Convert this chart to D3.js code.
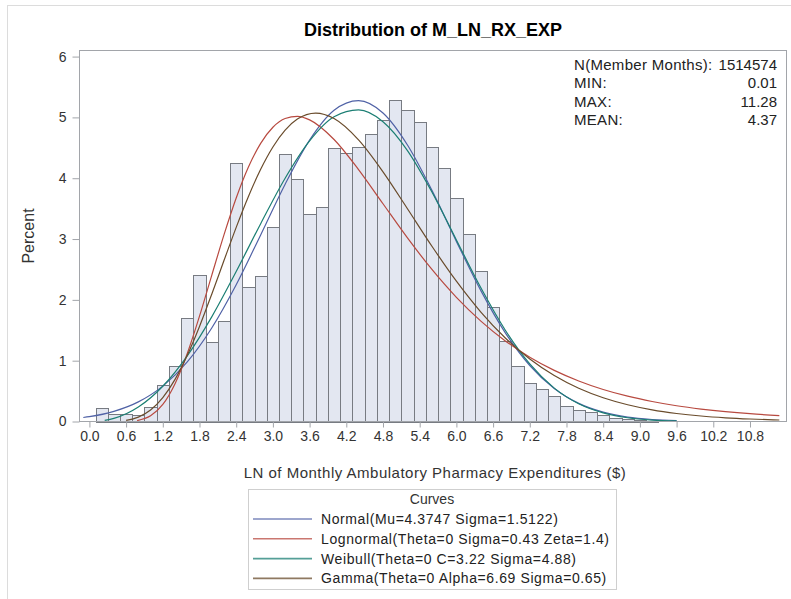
<!DOCTYPE html>
<html>
<head>
<meta charset="utf-8">
<script src="https://cdn.jsdelivr.net/npm/d3@7/dist/d3.min.js"></script>
<style>
  html, body { margin: 0; padding: 0; background: #fff; }
  svg { display: block; font-family: Arial, "Liberation Sans", sans-serif; }
</style>
</head>
<body>
<svg id="chart" width="791" height="599"></svg>
<script>
// ---------------- DATA ----------------
const titleText = "Distribution of M_LN_RX_EXP";
const xLabel = "LN of Monthly Ambulatory Pharmacy Expenditures ($)";
const yLabel = "Percent";

// Histogram bins (midpoints, width 0.2) and percent heights
const binMid = [0.2,0.4,0.6,0.8,1.0,1.2,1.4,1.6,1.8,2.0,2.2,2.4,2.6,2.8,3.0,3.2,3.4,3.6,3.8,4.0,
                4.2,4.4,4.6,4.8,5.0,5.2,5.4,5.6,5.8,6.0,6.2,6.4,6.6,6.8,7.0,7.2,7.4,7.6,7.8,8.0,
                8.2,8.4,8.6,8.8,9.0,9.2];
const binPct = [0.23,0.13,0.12,0.10,0.245,0.60,0.92,1.70,2.41,1.31,1.66,4.25,2.21,2.39,3.19,4.40,3.98,3.41,3.53,4.49,
                4.41,4.51,4.73,4.95,5.28,5.12,4.92,4.51,4.16,3.67,3.08,2.47,1.88,1.33,0.92,0.64,0.53,0.42,0.26,0.19,
                0.16,0.11,0.065,0.045,0.025,0.012];
const binWidth = 0.2;

const xTicks = [0.0,0.6,1.2,1.8,2.4,3.0,3.6,4.2,4.8,5.4,6.0,6.6,7.2,7.8,8.4,9.0,9.6,10.2,10.8];
const yTicks = [0,1,2,3,4,5,6];

// Fitted curves (percent per bin)
const normalX = [-0.1,0,0.4,0.8,1.2,1.6,2.0,2.4,2.8,3.2,3.6,4.0,4.4,4.8,5.2,5.6,6.0,6.4,6.8,7.2,7.6,8.0,8.4,8.8,9.2,9.6];
const normalY = [0.066,0.080,0.167,0.323,0.582,0.980,1.538,2.249,3.068,3.902,4.627,5.117,5.276,5.072,4.546,3.800,2.961,2.152,1.458,0.921,0.543,0.298,0.153,0.073,0.033,0.014];

const lognormX = [0.78,1.0,1.2,1.4,1.6,1.8,2.0,2.2,2.4,2.6,2.8,3.0,3.2,3.4,3.6,4.0,4.4,4.8,5.2,5.6,6.0,6.4,6.8,7.2,7.6,8.0,8.4,8.8,9.2,9.6,10.0,10.4,10.8,11.28];
const lognormY = [0.015,0.093,0.280,0.622,1.119,1.732,2.403,3.068,3.674,4.183,4.573,4.838,4.982,5.018,4.960,4.637,4.142,3.580,3.019,2.500,2.042,1.651,1.325,1.057,0.840,0.666,0.526,0.416,0.329,0.259,0.205,0.162,0.128,0.097];

const weibullX = [0.25,0.4,0.8,1.2,1.6,2.0,2.4,2.8,3.2,3.6,4.0,4.4,4.8,5.2,5.6,6.0,6.4,6.8,7.2,7.6,8.0,8.4,8.8,9.2,9.6];
const weibullY = [0.018,0.051,0.238,0.580,1.080,1.721,2.466,3.253,4.000,4.614,5.010,5.123,4.929,4.455,3.773,2.985,2.198,1.501,0.946,0.549,0.291,0.141,0.062,0.024,0.009];

const gammaX = [0.6,0.8,1.0,1.2,1.4,1.6,1.8,2.0,2.2,2.4,2.6,2.8,3.0,3.2,3.4,3.7,4.0,4.4,4.8,5.2,5.6,6.0,6.4,6.8,7.2,7.6,8.0,8.4,8.8,9.2,9.6,10.0,10.4,10.8,11.28];
const gammaY = [0.019,0.072,0.189,0.392,0.692,1.088,1.563,2.093,2.646,3.192,3.700,4.147,4.514,4.791,4.973,5.071,4.981,4.630,4.105,3.498,2.882,2.307,1.800,1.373,1.027,0.755,0.546,0.390,0.275,0.191,0.132,0.090,0.061,0.041,0.025];

const curveNames = [
  "Normal(Mu=4.3747 Sigma=1.5122)",
  "Lognormal(Theta=0 Sigma=0.43 Zeta=1.4)",
  "Weibull(Theta=0 C=3.22 Sigma=4.88)",
  "Gamma(Theta=0 Alpha=6.69 Sigma=0.65)"
];
const curveColors = ["#5062A6", "#B84A40", "#1C7F74", "#6A4C2C"];

const statLabels = ["N(Member Months):", "MIN:", "MAX:", "MEAN:"];
const statValues = ["1514574", "0.01", "11.28", "4.37"];

// ---------------- DRAW ----------------
const svg = d3.select("#chart");
const W = 791, H = 599;
const plot = { left: 79.5, right: 786.5, top: 50.5, bottom: 421.5 };

const x = d3.scaleLinear().domain([-0.162, 11.397]).range([plot.left, plot.right]);
const y = d3.scaleLinear().domain([0, 6.1]).range([plot.bottom, plot.top]);

// outer border
svg.append("rect").attr("x", 7.5).attr("y", 5.5).attr("width", W + 10).attr("height", H + 10)
  .attr("fill", "none").attr("stroke", "#dcdcdc");

// title
svg.append("text").attr("x", (plot.left + plot.right) / 2).attr("y", 36)
  .attr("text-anchor", "middle").attr("font-size", 18).attr("font-weight", "bold")
  .attr("fill", "#000").text(titleText);

// clip
svg.append("defs").append("clipPath").attr("id", "clip")
  .append("rect").attr("x", plot.left).attr("y", plot.top)
  .attr("width", plot.right - plot.left).attr("height", plot.bottom - plot.top);

// bars
const bars = svg.append("g").attr("shape-rendering", "crispEdges");
bars.selectAll("rect").data(binMid).enter().append("rect")
  .attr("x", (d) => Math.round(x(d - binWidth / 2)) + 0.5)
  .attr("width", (d) => Math.round(x(d + binWidth / 2)) - Math.round(x(d - binWidth / 2)))
  .attr("y", (d, i) => Math.round(y(binPct[i])) + 0.5)
  .attr("height", (d, i) => Math.max(0, Math.round(y(0)) - Math.round(y(binPct[i]))))
  .attr("fill", "#E3E7F1").attr("stroke", "#777b82").attr("stroke-width", 1);

// curves
const line = d3.line().x((d) => x(d[0])).y((d) => y(d[1])).curve(d3.curveMonotoneX);
const curveData = [
  d3.zip(normalX, normalY),
  d3.zip(lognormX, lognormY),
  d3.zip(weibullX, weibullY),
  d3.zip(gammaX, gammaY)
];
const cg = svg.append("g").attr("clip-path", "url(#clip)");
curveData.forEach((pts, i) => {
  cg.append("path").datum(pts).attr("d", line)
    .attr("fill", "none").attr("stroke", curveColors[i]).attr("stroke-width", 1.2);
});

// frame
svg.append("rect").attr("x", plot.left).attr("y", plot.top)
  .attr("width", plot.right - plot.left).attr("height", plot.bottom - plot.top)
  .attr("fill", "none").attr("stroke", "#a2a5aa").attr("shape-rendering", "crispEdges");

// axes
const xAxis = d3.axisBottom(x).tickValues(xTicks).tickFormat(d3.format(".1f")).tickSize(6).tickSizeOuter(0).tickPadding(4);
const gx = svg.append("g").attr("transform", `translate(0,${plot.bottom})`).call(xAxis);
gx.select(".domain").remove();
gx.selectAll(".tick line").attr("stroke", "#a2a5aa");
gx.selectAll(".tick text").attr("font-size", 14).attr("fill", "#333").attr("font-family", "Arial, 'Liberation Sans', sans-serif");

const yAxis = d3.axisLeft(y).tickValues(yTicks).tickFormat(d3.format("d")).tickSize(7).tickSizeOuter(0).tickPadding(6);
const gy = svg.append("g").attr("transform", `translate(${plot.left},0)`).call(yAxis);
gy.select(".domain").remove();
gy.selectAll(".tick line").attr("stroke", "#a2a5aa");
gy.selectAll(".tick text").attr("font-size", 14).attr("fill", "#333").attr("font-family", "Arial, 'Liberation Sans', sans-serif");

// axis labels
svg.append("text").attr("x", 435).attr("y", 478).attr("text-anchor", "middle")
  .attr("font-size", 15).attr("letter-spacing", 0.5).attr("fill", "#333").text(xLabel);
svg.append("text").attr("transform", "translate(34,236) rotate(-90)").attr("text-anchor", "middle")
  .attr("font-size", 16).attr("fill", "#333").text(yLabel);

// stats inset
const stats = svg.append("g").attr("font-size", 15).attr("fill", "#222");
statLabels.forEach((s, i) => {
  const by = 69.5 + i * 18.6;
  stats.append("text").attr("x", 574).attr("y", by).attr("letter-spacing", 0.3).text(s);
  stats.append("text").attr("x", 777).attr("y", by).attr("text-anchor", "end").text(statValues[i]);
});

// legend
const leg = svg.append("g");
leg.append("rect").attr("x", 248.5).attr("y", 489.5).attr("width", 368).attr("height", 100)
  .attr("fill", "#fff").attr("stroke", "#cfcfcf").attr("shape-rendering", "crispEdges");
leg.append("text").attr("x", 432).attr("y", 504).attr("text-anchor", "middle")
  .attr("font-size", 14).attr("fill", "#333").text("Curves");
curveNames.forEach((name, i) => {
  const cy = 519 + i * 19.8;
  leg.append("line").attr("x1", 253).attr("x2", 312).attr("y1", cy).attr("y2", cy)
    .attr("stroke", curveColors[i]).attr("stroke-width", 1.6).attr("stroke-opacity", 0.75);
  leg.append("text").attr("x", 321).attr("y", cy + 5).attr("font-size", 14).attr("letter-spacing", 0.6)
    .attr("fill", "#222").text(name);
});
</script>
</body>
</html>
